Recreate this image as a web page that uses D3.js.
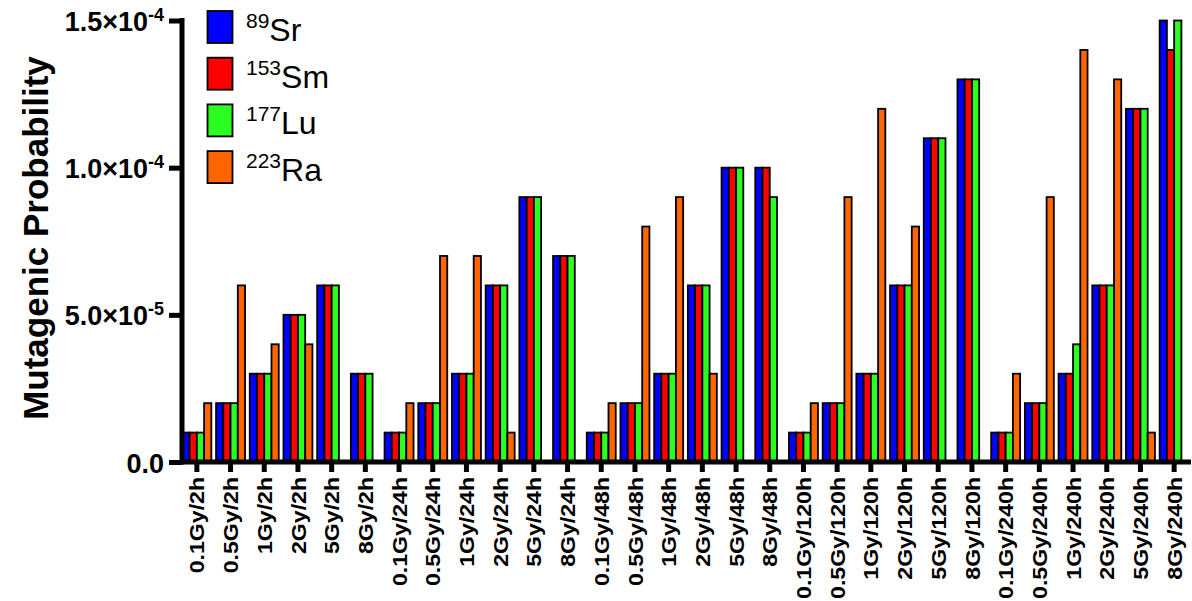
<!DOCTYPE html>
<html>
<head>
<meta charset="utf-8">
<script src="https://cdn.jsdelivr.net/npm/d3@7/dist/d3.min.js"></script>
<style>
  body { margin: 0; background: #fff; }
  svg { display: block; font-family: "Liberation Sans", Arial, sans-serif; }
</style>
</head>
<body>
<svg id="chart" width="1192" height="601"></svg>
<script>
const doses = ["0.1Gy", "0.5Gy", "1Gy", "2Gy", "5Gy", "8Gy"];
const times = ["2h", "24h", "48h", "120h", "240h"];
const categories = times.flatMap(t => doses.map(d => `${d}/${t}`));

const isotopes = [
  { mass: "89", sym: "Sr" },
  { mass: "153", sym: "Sm" },
  { mass: "177", sym: "Lu" },
  { mass: "223", sym: "Ra" }
];
const colors = ["#0000ff", "#ff0000", "#2bff1f", "#ff6600"];

// values in units of 1e-5, one entry per category
const sr89 = [1, 2, 3, 5, 6, 3, 1, 2, 3, 6, 9, 7, 1, 2, 3, 6, 10, 10, 1, 2, 3, 6, 11, 13, 1, 2, 3, 6, 12, 15];
const sm153 = [1, 2, 3, 5, 6, 3, 1, 2, 3, 6, 9, 7, 1, 2, 3, 6, 10, 10, 1, 2, 3, 6, 11, 13, 1, 2, 3, 6, 12, 14];
const lu177 = [1, 2, 3, 5, 6, 3, 1, 2, 3, 6, 9, 7, 1, 2, 3, 6, 10, 9, 1, 2, 3, 6, 11, 13, 1, 2, 4, 6, 12, 15];
const ra223 = [2, 6, 4, 4, 0, 0, 2, 7, 7, 1, 0, 0, 2, 8, 9, 3, 0, 0, 2, 9, 12, 8, 0, 0, 3, 9, 14, 13, 1, 0];
const series = [sr89, sm153, lu177, ra223];

const yTicks = [0, 5e-5, 1e-4, 1.5e-4];

const svg = d3.select("#chart");
const mLeft = 180, mRight = 1191, mTop = 20.5, mBottom = 462;

const x = d3.scaleBand().domain(categories).range([mLeft, mRight]).paddingInner(0.14).paddingOuter(0.07);
const xs = d3.scaleBand().domain(d3.range(4)).range([0, x.bandwidth()]);
const y = d3.scaleLinear().domain([0, 1.5e-4]).range([mBottom, mTop]);

// bars
const g = svg.append("g");
categories.forEach((c, i) => {
  series.forEach((s, k) => {
    const v = s[i] * 1e-5;
    if (v <= 0) return;
    g.append("rect")
      .attr("x", x(c) + xs(k))
      .attr("y", y(v))
      .attr("width", xs.bandwidth())
      .attr("height", y(0) - y(v))
      .attr("fill", colors[k])
      .attr("stroke", "#000")
      .attr("stroke-width", 1.8);
  });
});

// y axis
const yAxis = svg.append("g")
  .attr("transform", `translate(${mLeft + 2},0)`)
  .call(d3.axisLeft(y).tickValues(yTicks).tickSize(13).tickSizeOuter(0).tickFormat(""));
yAxis.select(".domain").attr("stroke", "#000").attr("stroke-width", 5)
  .attr("d", `M0,${mTop - 2.5}V${mBottom + 2.5}`);
yAxis.selectAll(".tick line").attr("stroke", "#000").attr("stroke-width", 5);
yAxis.selectAll(".tick").each(function (d) {
  const t = d3.select(this).append("text")
    .attr("x", -18).attr("dy", 10)
    .attr("text-anchor", "end")
    .attr("fill", "#000")
    .style("font-size", "27px").style("font-weight", "bold");
  if (d === 0) { t.text("0.0"); return; }
  const exp = Math.floor(Math.log10(d) + 1e-9);
  const man = (d / Math.pow(10, exp)).toFixed(1);
  t.append("tspan").text(`${man}×10`);
  t.append("tspan").attr("dy", -10).style("font-size", "18px").text(`-${Math.abs(exp)}`);
});

// x axis
const stretch = 1.1;
const xAxis = svg.append("g")
  .attr("transform", `translate(0,${mBottom})`)
  .call(d3.axisBottom(x).tickSize(10).tickSizeOuter(0));
xAxis.select(".domain").attr("stroke", "#000").attr("stroke-width", 5)
  .attr("d", `M${mLeft},0H${mRight}`);
xAxis.selectAll(".tick line").attr("stroke", "#000").attr("stroke-width", 5);
xAxis.selectAll(".tick text")
  .attr("transform", `rotate(-90) scale(${stretch},1)`)
  .attr("x", -15 / stretch).attr("y", 0).attr("dy", "0.36em")
  .attr("text-anchor", "end")
  .attr("fill", "#000")
  .style("font-size", "21px").style("font-weight", "bold");

// y title
svg.append("text")
  .attr("transform", "translate(48,238) rotate(-90)")
  .attr("text-anchor", "middle")
  .style("font-size", "35px").style("font-weight", "bold")
  .text("Mutagenic Probability");

// legend
const legend = svg.append("g");
isotopes.forEach((iso, k) => {
  const ly = 11 + k * 46.7;
  legend.append("rect")
    .attr("x", 207.5).attr("y", ly)
    .attr("width", 25).attr("height", 32)
    .attr("fill", colors[k]).attr("stroke", "#000").attr("stroke-width", 1.8);
  const t = legend.append("text")
    .attr("x", 246).attr("y", ly + 30)
    .style("font-size", "32px");
  t.append("tspan").attr("dy", -13).style("font-size", "21px").text(iso.mass);
  t.append("tspan").attr("dy", 13).text(iso.sym);
});
</script>
</body>
</html>
